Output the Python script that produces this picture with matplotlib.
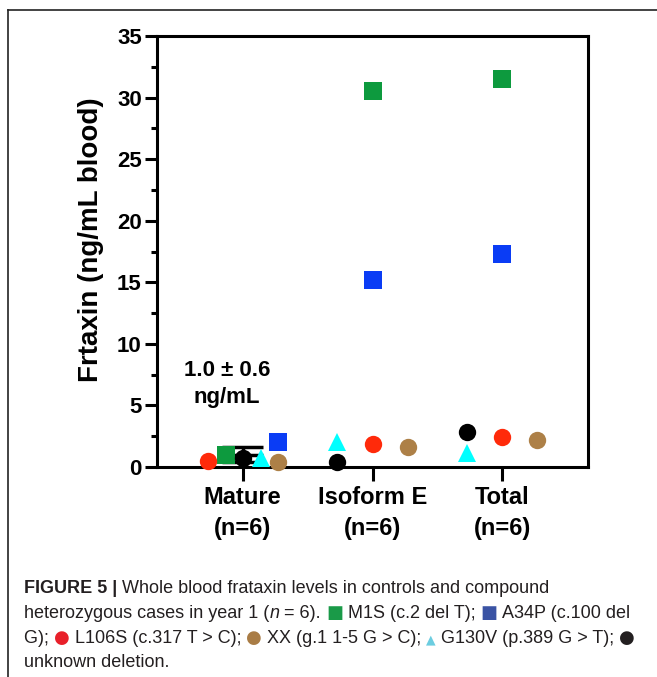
import matplotlib
matplotlib.use('Agg')
import matplotlib.pyplot as plt
from matplotlib.lines import Line2D
from matplotlib.transforms import IdentityTransform
from matplotlib.ticker import MultipleLocator

# data
categories = ['Mature\n(n=6)', 'Isoform E\n(n=6)', 'Total\n(n=6)']
m1s = [0.95, 30.5, 31.5]
a34p = [2.05, 15.2, 17.3]
l106s = [0.5, 1.9, 2.45]
xx = [0.4, 1.65, 2.2]
g130v = [0.7, 2.0, 1.1]
unknown = [0.75, 0.4, 2.85]
mature_mean = 1.0
mature_sd = 0.6

# horizontal jitter of each series inside a category (layout only)
off_m1s = [-0.13, 0, 0]
off_a34p = [0.27, 0, 0]
off_l106s = [-0.27, 0, 0]
off_xx = [0.27, 0.27, 0.27]
off_g130v = [0.14, -0.27, -0.27]
off_unknown = [0, -0.27, -0.27]

plt.rcParams['font.family'] = ['Liberation Sans', 'DejaVu Sans']

fig = plt.figure(figsize=(6.57, 6.77), dpi=100)
ax = fig.add_axes([157/657, 210/677, 431/657, 431/677])

series = [
    (m1s, off_m1s, 's', '#0d9a3e', 12.5),
    (a34p, off_a34p, 's', '#0a3cf5', 12.5),
    (l106s, off_l106s, 'o', '#ff2a0a', 12.5),
    (xx, off_xx, 'o', '#ad8047', 12.5),
    (g130v, off_g130v, '^', '#00ffff', 12.5),
    (unknown, off_unknown, 'o', '#000000', 12.5),
]

# mean +/- SD for the mature group
w = 0.16
ax.hlines([mature_mean - mature_sd, mature_mean, mature_mean + mature_sd],
          -w, w, colors='black', lw=2.5, zorder=2)
ax.vlines(0, mature_mean - mature_sd, mature_mean + mature_sd,
          colors='black', lw=2.5, zorder=2)

for vals, offs, mk, col, ms in series:
    xs = [i + o for i, o in enumerate(offs)]
    ax.plot(xs, vals, linestyle='none', marker=mk, color=col,
            markersize=ms, markeredgewidth=0, zorder=3, clip_on=False)

ax.set_xlim(-0.66, 2.66)
ax.set_ylim(0, 35)
ax.set_xticks(range(len(categories)))
ax.set_xticklabels(categories, fontsize=17, fontweight='bold', linespacing=1.4)
ax.yaxis.set_major_locator(MultipleLocator(5))
ax.yaxis.set_minor_locator(MultipleLocator(2.5))
for lab in ax.get_yticklabels():
    lab.set_fontsize(16)
    lab.set_fontweight('bold')
ax.tick_params(axis='y', which='major', length=9, width=2.2, pad=2)
ax.tick_params(axis='y', which='minor', length=4.5, width=2.2)
ax.tick_params(axis='x', which='major', length=10, width=2.2, pad=4)
for sp in ax.spines.values():
    sp.set_linewidth(2.2)

ax.set_ylabel('Frtaxin (ng/mL blood)', fontsize=20, fontweight='bold', va='center')
ax.yaxis.set_label_coords(-0.153, 0.527)

ax.text(-0.12, 6.75, '1.0 \u00b1 0.6\nng/mL', ha='center', va='center',
        fontsize=16, fontweight='bold', linespacing=1.35)

# outer frame of the figure panel
fig.add_artist(Line2D([8/657, 1], [1 - 10/677, 1 - 10/677], color='#222222',
                      lw=1.2, transform=fig.transFigure))
fig.add_artist(Line2D([8/657, 8/657], [0, 1 - 10/677], color='#222222',
                      lw=1.2, transform=fig.transFigure))

# caption with coloured symbols
txt = '#231f20'
cap_fs = 13
renderer = fig.canvas.get_renderer()


def caption_line(y, pieces):
    x = 24
    for s, kw in pieces:
        kw = dict(kw)
        fs = kw.pop('fs', cap_fs)
        fig.text(x, 677 - y, s, fontsize=fs, transform=IdentityTransform(),
                 va='baseline', **kw)
        a = fig.text(0, 0, s + 'I', fontsize=fs, **kw)
        b = fig.text(0, 0, 'I', fontsize=fs, **kw)
        x += a.get_window_extent(renderer).width - b.get_window_extent(renderer).width
        a.remove()
        b.remove()


norm = dict(color=txt)
sym_family = ['DejaVu Sans']
caption_line(593, [
    ('FIGURE 5 | ', dict(color=txt, fontweight='bold')),
    ('Whole blood frataxin levels in controls and compound', norm),
])
caption_line(618, [
    ('heterozygous cases in year 1 (', norm),
    ('n', dict(color=txt, style='italic')),
    (' = 6). ', norm),
    ('\u25a0', dict(color='#1a9a48', family=sym_family)),
    (' M1S (c.2 del T); ', norm),
    ('\u25a0', dict(color='#3a53a4', family=sym_family)),
    (' A34P (c.100 del', norm),
])
caption_line(643, [
    ('G); ', norm),
    ('\u25cf', dict(color='#e8202a', family=sym_family)),
    (' L106S (c.317 T > C); ', norm),
    ('\u25cf', dict(color='#a97c45', family=sym_family)),
    (' XX (g.1 1-5 G > C); ', norm),
    ('\u25b2', dict(color='#6ccde0', family=sym_family, fs=9)),
    (' G130V (p.389 G > T); ', norm),
    ('\u25cf', dict(color='#231f20', family=sym_family)),
])
caption_line(667, [
    ('unknown deletion.', norm),
])

fig.savefig('out.png', dpi=100)
